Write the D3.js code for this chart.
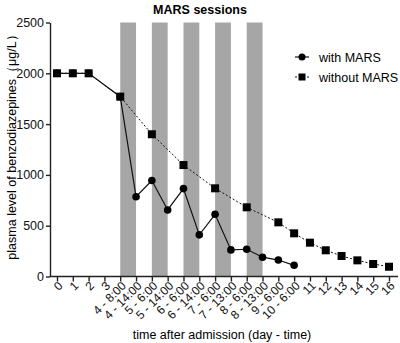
<!DOCTYPE html>
<html>
<head>
<meta charset="utf-8">
<script src="https://cdn.jsdelivr.net/npm/d3@7"></script>
<style>
  body { margin: 0; background: #fff; }
  text { font-family: "Liberation Sans", Arial, sans-serif; }
</style>
</head>
<body>
<svg id="chart" width="400" height="343"></svg>
<script>
// time points (day - time)
const categories = ['0', '1', '2', '3', '4 - 8:00', '4 - 14:00', '5 - 6:00', '5 - 14:00',
  '6 - 6:00', '6 - 14:00', '7 - 6:00', '7 - 13:00', '8 - 6:00', '8 - 13:00',
  '9 - 6:00', '10 - 6:00', '11', '12', '13', '14', '15', '16'];

// null = no measurement
const withMars = [2000, 2000, 2000, null, 1770, 785, 945, 655, 865, 410, 612, 262, 268, 190, 162, 110,
  null, null, null, null, null, null];
const withoutMars = [2000, 2000, 2000, null, 1770, null, 1400, null, 1097, null, 868, null, 681, null,
  533, 425, 333, 258, 202, 159, 123, 96];

// MARS sessions: [start, end]
const sessions = [['4 - 8:00', '4 - 14:00'], ['5 - 6:00', '5 - 14:00'], ['6 - 6:00', '6 - 14:00'],
  ['7 - 6:00', '7 - 13:00'], ['8 - 6:00', '8 - 13:00']];
const sessionTop = 2500;

const yTicks = [0, 500, 1000, 1500, 2000, 2500];

const svg = d3.select('#chart');

const x = d3.scalePoint()
  .domain(categories)
  .range([57, 389]);

const y = d3.scaleLinear()
  .domain([0, 2500])
  .range([276.5, 22.5]);

const axisColor = '#222';

// MARS sessions bars
svg.append('g')
  .selectAll('rect')
  .data(sessions)
  .enter()
  .append('rect')
  .attr('x', d => x(d[0]))
  .attr('width', d => x(d[1]) - x(d[0]))
  .attr('y', y(sessionTop))
  .attr('height', y(0) - y(sessionTop))
  .attr('fill', '#a6a6a6');

// y axis
const yAxis = svg.append('g')
  .attr('transform', 'translate(50,0)')
  .call(d3.axisLeft(y).tickValues(yTicks).tickFormat(d3.format('d'))
    .tickSize(4).tickSizeOuter(0).tickPadding(2));
yAxis.select('.domain').attr('stroke', axisColor).attr('stroke-width', 1.4);
yAxis.selectAll('.tick line').attr('stroke', axisColor).attr('stroke-width', 1.4);
yAxis.selectAll('.tick text')
  .attr('font-size', 12.5)
  .attr('fill', '#111')
  .style('font-family', '"Liberation Sans", Arial, sans-serif');

// x axis
const xAxis = svg.append('g')
  .attr('transform', `translate(0,${y(0)})`)
  .call(d3.axisBottom(x).tickSize(5).tickSizeOuter(0));
xAxis.select('.domain').remove();
xAxis.append('line')
  .attr('x1', 50).attr('x2', 398)
  .attr('stroke', axisColor).attr('stroke-width', 1.4);
xAxis.selectAll('.tick line').attr('stroke', axisColor).attr('stroke-width', 1.4);
xAxis.selectAll('.tick text')
  .attr('font-size', 12)
  .attr('fill', '#111')
  .attr('text-anchor', 'end')
  .attr('x', 0)
  .attr('y', 0)
  .attr('dy', '0.35em')
  .attr('transform', 'translate(3,7) rotate(-45)')
  .style('font-family', '"Liberation Sans", Arial, sans-serif');

// lines
const pts = arr => arr.map((v, i) => ({ c: categories[i], v })).filter(d => d.v !== null);
const line = d3.line().x(d => x(d.c)).y(d => y(d.v));

svg.append('path')
  .datum(pts(withoutMars))
  .attr('d', line)
  .attr('fill', 'none')
  .attr('stroke', '#111')
  .attr('stroke-width', 1)
  .attr('stroke-dasharray', '2,2');

svg.append('path')
  .datum(pts(withMars))
  .attr('d', line)
  .attr('fill', 'none')
  .attr('stroke', '#111')
  .attr('stroke-width', 1.2);

// markers
svg.append('g')
  .selectAll('circle')
  .data(pts(withMars))
  .enter()
  .append('circle')
  .attr('cx', d => x(d.c))
  .attr('cy', d => y(d.v))
  .attr('r', 3.8)
  .attr('fill', '#000');

svg.append('g')
  .selectAll('rect')
  .data(pts(withoutMars))
  .enter()
  .append('rect')
  .attr('x', d => x(d.c) - 4)
  .attr('y', d => y(d.v) - 4)
  .attr('width', 8)
  .attr('height', 8)
  .attr('fill', '#000');

// title
svg.append('text')
  .attr('x', 200)
  .attr('y', 14)
  .attr('text-anchor', 'middle')
  .attr('font-size', 12.5)
  .attr('font-weight', 'bold')
  .text('MARS sessions');

// legend
const legend = svg.append('g').attr('transform', 'translate(295,0)');
legend.append('line')
  .attr('x1', 0).attr('x2', 14).attr('y1', 57).attr('y2', 57)
  .attr('stroke', '#111').attr('stroke-width', 1.2);
legend.append('circle').attr('cx', 7).attr('cy', 57).attr('r', 3.5).attr('fill', '#000');
legend.append('text').attr('x', 24).attr('y', 61.5).attr('font-size', 12.5).text('with MARS');
legend.append('line')
  .attr('x1', 0).attr('x2', 14).attr('y1', 77).attr('y2', 77)
  .attr('stroke', '#111').attr('stroke-width', 1).attr('stroke-dasharray', '2,2');
legend.append('rect').attr('x', 3.5).attr('y', 73.5).attr('width', 7).attr('height', 7).attr('fill', '#000');
legend.append('text').attr('x', 24).attr('y', 81.5).attr('font-size', 12.5).text('without MARS');

// axis titles
svg.append('text')
  .attr('transform', 'translate(16,144) rotate(-90)')
  .attr('text-anchor', 'middle')
  .attr('font-size', 12.5)
  .text('plasma level of benzodiazepines（μg/L）');

svg.append('text')
  .attr('x', 222)
  .attr('y', 339)
  .attr('text-anchor', 'middle')
  .attr('font-size', 12.5)
  .text('time after admission (day - time)');
</script>
</body>
</html>
